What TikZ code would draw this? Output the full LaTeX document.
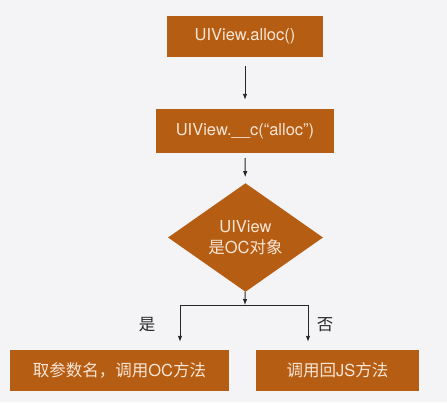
\documentclass[tikz,border=0pt]{standalone}
\usepackage{fontspec}
\setmainfont{TeX Gyre Heros}
\newfontfamily\cjk{Noto Sans CJK SC}
\usetikzlibrary{shapes.geometric,arrows.meta}
\definecolor{boxfill}{HTML}{B65D14}
\definecolor{boxtext}{HTML}{F7E6D5}
\definecolor{pagebg}{HTML}{F4F4F6}
\tikzset{
	stepbox/.style={fill=boxfill, text=boxtext, inner sep=0pt, font=\fontsize{16.5}{21}\selectfont},
	flow/.style={-{Latex[length=6pt,width=4.5pt]}, line width=0.9pt, draw=black!85},
	branch/.style={line width=0.9pt, draw=black!85},
	answer/.style={font=\fontsize{16.5}{20}\selectfont\cjk, text=black!85},
}

\begin{document}
\begin{tikzpicture}[x=1pt,y=-1pt]
	% Background
	\fill[pagebg] (0,0) rectangle (447,402);
	
	% Steps
	\node[stepbox, minimum width=156pt, minimum height=41pt] (alloc) at (245,36.5) {UIView.alloc()};
	\node[stepbox, minimum width=178pt, minimum height=44pt] (call) at (245,131) {UIView.\_\_c(“alloc”)};
	\node[stepbox, diamond, minimum width=155pt, minimum height=79pt, align=center] (isoc) at (245.5,237.5) {UIView\\{\cjk 是}OC{\cjk 对象}};
	\node[stepbox, minimum width=219pt, minimum height=41pt] (yes) at (119.5,370.5) {{\cjk 取参数名，调用}OC{\cjk 方法}};
	\node[stepbox, minimum width=163pt, minimum height=41pt] (no) at (337.5,370.5) {{\cjk 调用回}JS{\cjk 方法}};
	
	% Connectors
	\draw[flow, shorten <=9pt, shorten >=9pt] (alloc) -- (call);
	\draw[flow, shorten <=5pt, shorten >=6pt] (call) -- (isoc);
	
	% Branching
	\coordinate (split) at (245,305);
	\coordinate (yesturn) at (180,305);
	\coordinate (noturn) at (308,305);
	\draw[flow] (isoc) -- (split);
	\draw[branch] (yesturn) -- (noturn);
	\draw[flow, shorten >=8pt] (yesturn) -- (yesturn |- yes.north);
	\draw[flow, shorten >=8pt] (noturn) -- (noturn |- no.north);
	
	% Answers
	\node[answer] (yeslabel) at (147,325) {是};
	\node[answer] (nolabel) at (325,325) {否};
\end{tikzpicture}
\end{document}
